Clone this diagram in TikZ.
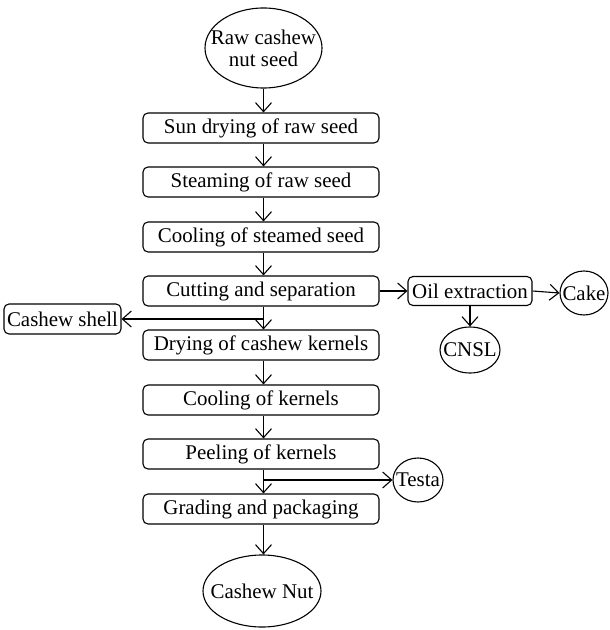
\documentclass[tikz,border=0pt]{standalone}
\usepackage{fontspec}
\setmainfont{Liberation Serif}
\usetikzlibrary{arrows.meta,shapes.geometric}
\tikzset{
  stepbox/.style={draw, rounded corners=5bp, line width=1.1bp, minimum width=236bp, minimum height=30bp, inner sep=0pt},
  sidebox/.style={draw, rounded corners=5bp, line width=1.1bp, minimum height=30bp, inner xsep=3bp, inner ysep=0pt},
  oval/.style={draw, ellipse, line width=1.1bp, inner sep=0pt},
  ovaltext/.style={label={[align=center, inner sep=0pt]center:#1}},
  arr/.style={line width=1.1bp, -{Straight Barb[length=9bp,width=16bp,line width=1.1bp]}},
}
\begin{document}
\begin{tikzpicture}[x=1bp,y=-1bp,font=\fontsize{21}{22}\selectfont]
\useasboundingbox (0,0) rectangle (610,630);
\node[oval, minimum width=117bp, minimum height=80bp, ovaltext={Raw cashew\\nut seed}] (top) at (263.5,48) {};
\node[stepbox] (sun) at (261,128) {Sun drying of raw seed};
\node[stepbox] (steam) at (261,182) {Steaming of raw seed};
\node[stepbox] (coolseed) at (261,237) {Cooling of steamed seed};
\node[stepbox] (cut) at (261,291) {Cutting and separation};
\node[stepbox] (dry) at (261,345) {Drying of cashew kernels};
\node[stepbox] (coolk) at (261,400) {Cooling of kernels};
\node[stepbox] (peel) at (261,454) {Peeling of kernels};
\node[stepbox] (grade) at (261,509) {Grading and packaging};
\node[oval, minimum width=118bp, minimum height=72bp, ovaltext={Cashew Nut}] (nut) at (262,591) {};
\node[sidebox, minimum width=113bp] (shell) at (62.5,319) {Cashew shell};
\node[sidebox, minimum width=124bp, minimum height=29bp] (oil) at (470,291) {Oil extraction};
\node[oval, minimum width=48bp, minimum height=44bp, ovaltext={Cake}] (cake) at (584,293) {};
\node[oval, minimum width=60bp, minimum height=46bp, ovaltext={CNSL}] (cnsl) at (470,350) {};
\node[oval, minimum width=50bp, minimum height=44bp, ovaltext={Testa}] (testa) at (418,480) {};
\draw[arr] (top.south) -- (sun.north -| top.south);
\draw[arr] (sun.south -| top.south) -- (steam.north -| top.south);
\draw[arr] (steam.south -| top.south) -- (coolseed.north -| top.south);
\draw[arr] (coolseed.south -| top.south) -- (cut.north -| top.south);
\draw[arr] (cut.south -| top.south) -- (dry.north -| top.south);
\draw[arr] (dry.south -| top.south) -- (coolk.north -| top.south);
\draw[arr] (coolk.south -| top.south) -- (peel.north -| top.south);
\draw[arr] (peel.south -| top.south) -- (grade.north -| top.south);
\draw[arr] (grade.south -| top.south) -- (nut.north -| top.south);
\draw[arr] (shell.east -| top.south) -- (shell.east);
\draw[arr] (testa.west -| top.south) -- (testa.west);
\draw[arr] (cut.east) -- (oil.west);
\draw[arr] (oil.east) -- (cake.west);
\draw[arr] (oil.south -| cnsl.north) -- (cnsl.north);
\end{tikzpicture}
\end{document}
